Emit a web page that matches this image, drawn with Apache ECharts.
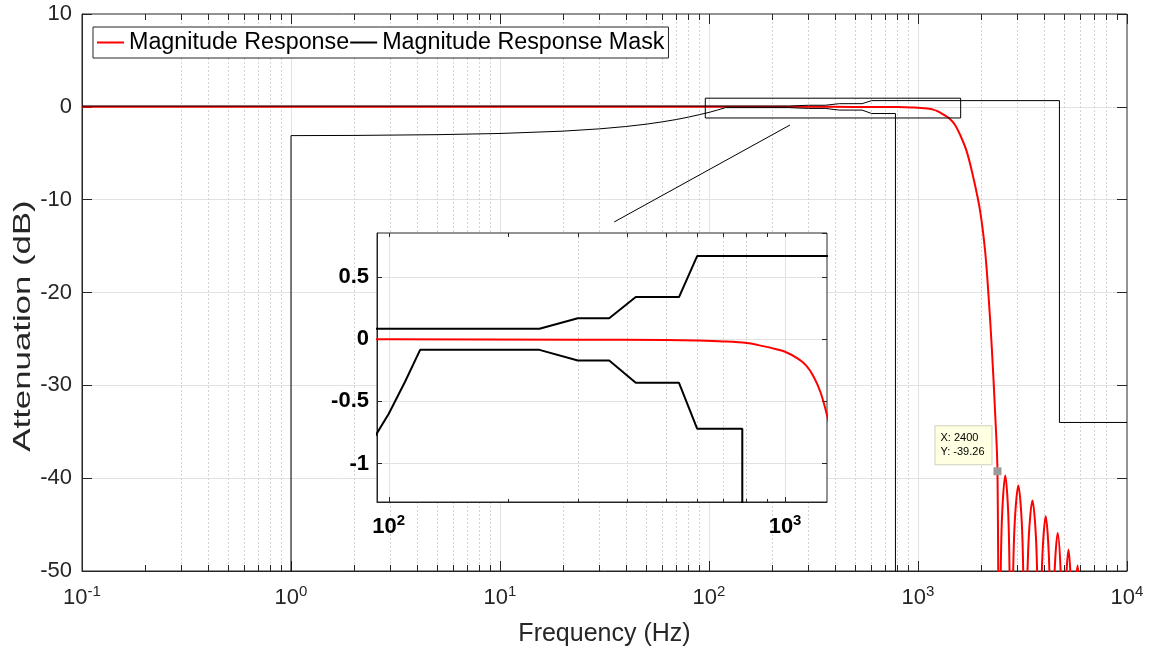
<!DOCTYPE html>
<html>
<head>
<meta charset="utf-8">
<title>Magnitude Response</title>
<script src="https://cdn.jsdelivr.net/npm/echarts@6/dist/echarts.min.js"></script>
<style>
html, body { margin: 0; padding: 0; background: #fff; }
#main { width: 1155px; height: 652px; }
</style>
</head>
<body>
<div id="main"></div>
<script>
// magnitude response of the filter (Hz / dB)
var respFreq = [0.1, 100, 300, 500, 600, 700, 800, 880, 950, 1000, 1070, 1130, 1180, 1230, 1278, 1350, 1422, 1500, 1589, 1710, 1841, 1982, 2094, 2173, 2254, 2336, 2400, 2449,
	2466, 2487, 2530, 2615, 2700, 2742, 2764, 2788,
	2811, 2846, 2904, 3020, 3136, 3194, 3229, 3252,
	3280, 3321, 3390, 3528, 3666, 3735, 3777, 3805,
	3833, 3875, 3944, 4083, 4222, 4292, 4333, 4361,
	4391, 4436, 4510, 4660, 4809, 4884, 4928, 4958,
	5045, 5103, 5247, 5391, 5449, 5536,
	5668, 5800, 5932, 6065];
var respDb = [0, 0, -0.003, -0.006, -0.01, -0.017, -0.03, -0.055, -0.08, -0.1, -0.15, -0.21, -0.3, -0.43, -0.62, -0.95, -1.3, -1.9, -3.0, -4.8, -7.65, -11.2, -15.5, -20.2, -25.9, -32.7, -39.26, -70,
	-58.9, -50.2, -43.6, -39.7, -43.6, -50.2, -58.9, -70,
	-60, -51.3, -44.7, -40.8, -44.7, -51.3, -60, -70,
	-61.6, -52.9, -46.3, -42.4, -46.3, -52.9, -61.6, -70,
	-63.3, -54.6, -48.0, -44.1, -48.0, -54.6, -63.3, -70,
	-65, -56.4, -49.8, -45.9, -49.8, -56.4, -65, -70,
	-58.2, -51.6, -47.7, -51.6, -58.2, -70,
	-53.3, -49.4, -53.3, -70];

// upper limit of the mask
var maskUpFreq = [0.1, 240, 300, 360, 420, 540, 600, 4750, 4750, 10000];
var maskUpDb = [0.085, 0.085, 0.17, 0.17, 0.34, 0.34, 0.67, 0.67, -34, -34];
// lower limit of the mask
var maskLowFreq = [1, 1, 2, 5, 10, 20, 30, 40, 50, 60, 70, 80, 90, 100, 110, 120, 240, 300, 360, 420, 540, 600, 780, 780];
var maskLowDb = [-60, -3.1, -3.08, -3.0, -2.87, -2.62, -2.37, -2.12, -1.87, -1.61, -1.36, -1.1, -0.84, -0.6, -0.34, -0.085, -0.085, -0.17, -0.17, -0.35, -0.35, -0.72, -0.72, -60];

// zoom box and its pointer line
var boxFreq = [96, 1600];
var boxDb = [0.93, -1.2];
var pointerFreq = [244, 35.2];
var pointerDb = [-1.96, -12.4];

// data tip
var tipX = 2400;
var tipY = -39.26;

// axis ranges
var mainXRange = [0.1, 10000];
var mainYRange = [-50, 10];
var insetXRange = [93.4, 1276];
var insetYRange = [-1.31, 0.856];

var FONT = 'Liberation Sans';
var AXC = '#262626';

function pairs(xs, ys) {
	var out = [];
	for (var i = 0; i < xs.length; i++) out.push([xs[i], ys[i]]);
	return out;
}

// positions of 2..9 x 10^k in log units, for minor ticks / dotted grid
function minorLogs(lo, hi, withMajor) {
	var out = [];
	for (var k = Math.floor(lo); k <= Math.ceil(hi); k++) {
		for (var m = (withMajor ? 1 : 2); m <= 9; m++) {
			var v = k + Math.log10(m);
			if (v > lo + 1e-6 && v < hi - 1e-6) out.push(v);
		}
	}
	return out;
}

function powLabel(value) {
	var e = Math.round(Math.log10(value));
	return '{b|10}{s|' + e + '}';
}

var boxData = [[boxFreq[0], boxDb[0]], [boxFreq[1], boxDb[0]], [boxFreq[1], boxDb[1]], [boxFreq[0], boxDb[1]], [boxFreq[0], boxDb[0]]];

var mainLogLo = Math.log10(mainXRange[0]), mainLogHi = Math.log10(mainXRange[1]);
var insLogLo = Math.log10(insetXRange[0]), insLogHi = Math.log10(insetXRange[1]);

var chart = echarts.init(document.getElementById('main'));

var option = {
	animation: false,
	backgroundColor: '#fff',
	textStyle: { fontFamily: FONT },
	legend: {
		data: ['Magnitude Response', 'Magnitude Response Mask'],
		left: 93, top: 27,
		padding: [4, 4, 4, 3],
		itemWidth: 27, itemHeight: 14, itemGap: 0,
		itemStyle: { opacity: 0 },
		backgroundColor: '#fff',
		borderColor: AXC, borderWidth: 1, borderRadius: 0,
		textStyle: { fontSize: 23.3, color: '#000', fontFamily: FONT },
		z: 10
	},
	// y label is drawn long and narrow as in the picture
	graphic: [{
		type: 'text', x: 23, y: 326, rotation: Math.PI / 2, scaleX: 1.42, z: 10,
		style: { text: 'Attenuation (dB)', fontSize: 24.5, fontFamily: FONT, fill: AXC, align: 'center', verticalAlign: 'middle' }
	}],
	grid: [
		{ left: 82, top: 14, width: 1045, height: 559, show: true, borderColor: AXC, borderWidth: 1, backgroundColor: 'transparent', z: 0 },
		{ left: 377, top: 233, width: 450, height: 269, show: true, borderColor: AXC, borderWidth: 1, backgroundColor: '#fff', z: 5 }
	],
	xAxis: [
		{ // 0 main, bottom, log
			type: 'log', logBase: 10, gridIndex: 0, position: 'bottom',
			min: mainXRange[0], max: mainXRange[1],
			name: 'Frequency (Hz)', nameLocation: 'middle', nameGap: 51,
			nameTextStyle: { fontSize: 25, color: AXC, fontFamily: FONT },
			axisLine: { show: true, onZero: false, lineStyle: { color: AXC, width: 1 } },
			axisTick: { show: true, inside: true, length: 10, lineStyle: { color: AXC } },
			axisLabel: {
				margin: 13, formatter: powLabel,
				rich: {
					b: { fontSize: 22, color: AXC, fontFamily: FONT },
					s: { fontSize: 15, color: AXC, fontFamily: FONT, verticalAlign: 'top', padding: [0, 0, 12, 0] }
				}
			},
			splitLine: { show: true, showMinLine: false, showMaxLine: false, lineStyle: { color: '#e2e2e2', width: 1 } }
		},
		{ // 1 main, minor ticks + dotted grid
			type: 'value', gridIndex: 0, position: 'bottom', min: mainLogLo, max: mainLogHi,
			axisLine: { show: false, onZero: false },
			axisLabel: { show: false },
			axisTick: { show: true, inside: true, length: 6, customValues: minorLogs(mainLogLo, mainLogHi, false), lineStyle: { color: AXC } },
			splitLine: { show: true, showMinLine: false, showMaxLine: false, lineStyle: { color: '#d4d4d4', width: 1, type: [2, 2] } }
		},
		{ // 2 main, top major ticks
			type: 'log', logBase: 10, gridIndex: 0, position: 'top',
			min: mainXRange[0], max: mainXRange[1],
			axisLine: { show: false, onZero: false },
			axisLabel: { show: false },
			axisTick: { show: true, inside: true, length: 10, lineStyle: { color: AXC } },
			splitLine: { show: false }
		},
		{ // 3 main, top minor ticks
			type: 'value', gridIndex: 0, position: 'top', min: mainLogLo, max: mainLogHi,
			axisLine: { show: false, onZero: false },
			axisLabel: { show: false },
			axisTick: { show: true, inside: true, length: 6, customValues: minorLogs(mainLogLo, mainLogHi, false), lineStyle: { color: AXC } },
			splitLine: { show: false }
		},
		{ // 4 inset, bottom, log
			type: 'log', logBase: 10, gridIndex: 1, position: 'bottom', z: 6,
			min: insetXRange[0], max: insetXRange[1],
			axisLine: { show: true, onZero: false, lineStyle: { color: AXC, width: 1 } },
			axisTick: { show: true, inside: true, length: 5, lineStyle: { color: AXC } },
			axisLabel: {
				margin: 11, formatter: powLabel, showMinLabel: false, showMaxLabel: false,
				rich: {
					b: { fontSize: 22, fontWeight: 'bold', color: '#000', fontFamily: FONT },
					s: { fontSize: 15, fontWeight: 'bold', color: '#000', fontFamily: FONT, verticalAlign: 'top', padding: [0, 0, 12, 0] }
				}
			},
			splitLine: { show: true, showMinLine: false, showMaxLine: false, lineStyle: { color: '#e2e2e2', width: 1 } }
		},
		{ // 5 inset minor
			type: 'value', gridIndex: 1, position: 'bottom', z: 6, min: insLogLo, max: insLogHi,
			axisLine: { show: false, onZero: false },
			axisLabel: { show: false },
			axisTick: { show: true, inside: true, length: 3, customValues: minorLogs(insLogLo, insLogHi, false), lineStyle: { color: AXC } },
			splitLine: { show: true, showMinLine: false, showMaxLine: false, lineStyle: { color: '#d4d4d4', width: 1, type: [2, 2] } }
		},
		{ // 6 inset top ticks
			type: 'value', gridIndex: 1, position: 'top', z: 6, min: insLogLo, max: insLogHi,
			axisLine: { show: false, onZero: false },
			axisLabel: { show: false },
			axisTick: { show: true, inside: true, length: 4, customValues: minorLogs(insLogLo, insLogHi, true), lineStyle: { color: AXC } },
			splitLine: { show: false }
		}
	],
	yAxis: [
		{ // 0 main left
			type: 'value', gridIndex: 0, position: 'left',
			min: mainYRange[0], max: mainYRange[1], interval: 10,
			axisLine: { show: true, onZero: false, lineStyle: { color: AXC, width: 1 } },
			axisTick: { show: true, inside: true, length: 10, lineStyle: { color: AXC } },
			axisLabel: { fontSize: 22, color: AXC, margin: 10, fontFamily: FONT },
			splitLine: { show: true, showMinLine: false, showMaxLine: false, lineStyle: { color: '#e2e2e2', width: 1 } }
		},
		{ // 1 main right ticks
			type: 'value', gridIndex: 0, position: 'right',
			min: mainYRange[0], max: mainYRange[1], interval: 10,
			axisLine: { show: false, onZero: false },
			axisTick: { show: true, inside: true, length: 10, lineStyle: { color: AXC } },
			axisLabel: { show: false },
			splitLine: { show: false }
		},
		{ // 2 inset left
			type: 'value', gridIndex: 1, position: 'left', z: 6,
			min: insetYRange[0], max: insetYRange[1], splitNumber: 5,
			axisLine: { show: true, onZero: false, lineStyle: { color: AXC, width: 1 } },
			axisTick: { show: true, inside: true, length: 5, lineStyle: { color: AXC } },
			axisLabel: { fontSize: 22, fontWeight: 'bold', color: '#000', margin: 8, fontFamily: FONT, showMinLabel: false, showMaxLabel: false },
			splitLine: { show: true, showMinLine: false, showMaxLine: false, lineStyle: { color: '#e2e2e2', width: 1 } }
		},
		{ // 3 inset right ticks
			type: 'value', gridIndex: 1, position: 'right', z: 6,
			min: insetYRange[0], max: insetYRange[1], splitNumber: 5,
			axisLine: { show: false, onZero: false },
			axisTick: { show: true, inside: true, length: 5, lineStyle: { color: AXC } },
			axisLabel: { show: false },
			splitLine: { show: false }
		}
	],
	series: [
		{
			name: 'Magnitude Response', type: 'line', xAxisIndex: 0, yAxisIndex: 0,
			data: pairs(respFreq, respDb), symbol: 'none', clip: true, z: 2,
			smooth: 0.35,
			lineStyle: { color: '#ff0000', width: 2 }, itemStyle: { color: '#ff0000' },
			markPoint: {
				symbol: 'rect', symbolSize: 8, silent: true,
				itemStyle: { color: '#9a9a9a' },
				label: {
					show: true, position: [-58, -41], align: 'left', verticalAlign: 'top',
					formatter: 'X: ' + tipX + '\nY: ' + tipY,
					fontSize: 11, lineHeight: 14, color: '#000', fontFamily: FONT,
					backgroundColor: '#ffffe1', borderColor: '#cfcfbf', borderWidth: 1,
					padding: [5, 7, 5, 5]
				},
				data: [{ coord: [tipX, tipY] }]
			}
		},
		{
			name: 'Magnitude Response Mask', type: 'line', xAxisIndex: 0, yAxisIndex: 0,
			data: pairs(maskUpFreq, maskUpDb), symbol: 'none', clip: true, z: 2,
			lineStyle: { color: '#000', width: 1 }, itemStyle: { color: '#000' }
		},
		{
			name: 'Magnitude Response Mask', type: 'line', xAxisIndex: 0, yAxisIndex: 0,
			data: pairs(maskLowFreq, maskLowDb), symbol: 'none', clip: true, z: 2,
			lineStyle: { color: '#000', width: 1 }, itemStyle: { color: '#000' }
		},
		{
			name: 'zoom box', type: 'line', xAxisIndex: 0, yAxisIndex: 0,
			data: boxData, symbol: 'none', z: 2,
			lineStyle: { color: '#000', width: 1 }
		},
		{
			name: 'zoom pointer', type: 'line', xAxisIndex: 0, yAxisIndex: 0,
			data: pairs(pointerFreq, pointerDb), symbol: 'none', z: 2,
			lineStyle: { color: '#000', width: 1 }
		},
		{
			name: 'Magnitude Response', type: 'line', xAxisIndex: 4, yAxisIndex: 2,
			data: pairs(respFreq, respDb), symbol: 'none', clip: true, z: 7,
			smooth: 0.35,
			lineStyle: { color: '#ff0000', width: 2 }, itemStyle: { color: '#ff0000' }
		},
		{
			name: 'Magnitude Response Mask', type: 'line', xAxisIndex: 4, yAxisIndex: 2,
			data: pairs(maskUpFreq, maskUpDb), symbol: 'none', clip: true, z: 7,
			lineStyle: { color: '#000', width: 2 }, itemStyle: { color: '#000' }
		},
		{
			name: 'Magnitude Response Mask', type: 'line', xAxisIndex: 4, yAxisIndex: 2,
			data: pairs(maskLowFreq, maskLowDb), symbol: 'none', clip: true, z: 7,
			lineStyle: { color: '#000', width: 2 }, itemStyle: { color: '#000' }
		}
	]
};

chart.setOption(option);
</script>
</body>
</html>
